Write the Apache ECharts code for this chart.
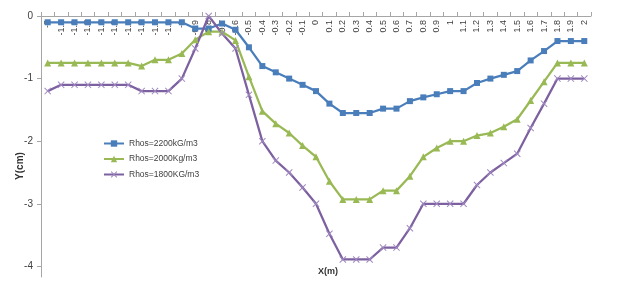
<!DOCTYPE html>
<html>
<head>
<meta charset="utf-8">
<script src="https://cdn.jsdelivr.net/npm/echarts@6/dist/echarts.min.js"></script>
<style>
html,body{margin:0;padding:0;background:#fff;}
#chart{width:619px;height:295px;}
</style>
</head>
<body>
<div id="chart"></div>
<script>
var categories = ['-2','-1.9','-1.8','-1.7','-1.6','-1.5','-1.4','-1.3','-1.2','-1.1','-1','-0.9','-0.8','-0.7','-0.6','-0.5','-0.4','-0.3','-0.2','-0.1','0','0.1','0.2','0.3','0.4','0.5','0.6','0.7','0.8','0.9','1','1.1','1.2','1.3','1.4','1.5','1.6','1.7','1.8','1.9','2'];

var rhos2200 = [-0.1,-0.1,-0.1,-0.1,-0.1,-0.1,-0.1,-0.1,-0.1,-0.1,-0.1,-0.2,-0.2,-0.12,-0.22,-0.5,-0.8,-0.9,-1.0,-1.1,-1.2,-1.4,-1.55,-1.55,-1.55,-1.48,-1.48,-1.36,-1.3,-1.25,-1.2,-1.2,-1.07,-1.0,-0.94,-0.88,-0.71,-0.56,-0.4,-0.4,-0.4];

var rhos2000 = [-0.75,-0.75,-0.75,-0.75,-0.75,-0.75,-0.75,-0.8,-0.7,-0.7,-0.6,-0.38,-0.25,-0.25,-0.39,-0.97,-1.52,-1.72,-1.87,-2.07,-2.25,-2.64,-2.93,-2.93,-2.93,-2.79,-2.79,-2.56,-2.25,-2.11,-2.0,-2.0,-1.91,-1.87,-1.77,-1.65,-1.35,-1.05,-0.75,-0.75,-0.75];

var rhos1800 = [-1.2,-1.1,-1.1,-1.1,-1.1,-1.1,-1.1,-1.2,-1.2,-1.2,-1.0,-0.52,0,-0.28,-0.52,-1.26,-2.0,-2.31,-2.5,-2.74,-3.0,-3.48,-3.89,-3.89,-3.89,-3.7,-3.7,-3.39,-3.0,-3.0,-3.0,-3.0,-2.7,-2.5,-2.35,-2.2,-1.79,-1.4,-1.0,-1.0,-1.0];

var yTicks = [0,-1,-2,-3,-4];
var seriesNames = ['Rhos=2200kG/m3','Rhos=2000Kg/m3','Rhos=1800KG/m3'];

var xSymbol = 'path://M0,1L1,0L5,4L9,0L10,1L6,5L10,9L9,10L5,6L1,10L0,9L4,5Z';
var font = 'Liberation Sans, Arial, sans-serif';

var chart = echarts.init(document.getElementById('chart'), null, {renderer:'canvas'});
chart.setOption({
  animation:false,
  backgroundColor:'#ffffff',
  textStyle:{fontFamily:font},
  grid:{left:41,right:28,top:16,bottom:18,containLabel:false},
  legend:{
    orient:'vertical', left:103, top:139, padding:0, itemWidth:20, itemHeight:8, itemGap:6.5,
    textStyle:{fontSize:8.5,color:'#404040',fontFamily:font},
    data:seriesNames
  },
  xAxis:{
    type:'category', position:'top', data:categories, boundaryGap:true,
    axisLine:{onZero:false,lineStyle:{color:'#a6a6a6',width:1}},
    axisTick:{show:true,inside:false,length:4,lineStyle:{color:'#a6a6a6'}},
    axisLabel:{inside:true,rotate:-90,interval:0,fontSize:9,color:'#404040',margin:4,fontFamily:font,
      overflow:'none',width:60,hideOverlap:false},
    splitLine:{show:false}
  },
  yAxis:{
    type:'value', min:-4.17, max:0,
    axisLine:{show:true,lineStyle:{color:'#a6a6a6',width:1}},
    axisTick:{show:true,length:4,customValues:yTicks,lineStyle:{color:'#a6a6a6'}},
    axisLabel:{customValues:yTicks,fontSize:10,color:'#404040',margin:8,fontFamily:font},
    splitLine:{show:false}
  },
  graphic:[
    {type:'text',x:20,y:166,rotation:Math.PI/2,style:{text:'Y(cm)',font:'bold 10px '+font,fill:'#333',align:'center',verticalAlign:'middle'}},
    {type:'text',x:328,y:272,style:{text:'X(m)',font:'bold 9px '+font,fill:'#333',align:'center',verticalAlign:'middle'}}
  ],
  series:[
    {name:seriesNames[0],type:'line',data:rhos2200,symbol:'rect',symbolSize:6,
     lineStyle:{width:2.25,color:'#4a7ebb'},itemStyle:{color:'#4a7ebb'}},
    {name:seriesNames[1],type:'line',data:rhos2000,symbol:'triangle',symbolSize:7,
     lineStyle:{width:2.25,color:'#98b954'},itemStyle:{color:'#98b954'}},
    {name:seriesNames[2],type:'line',data:rhos1800,symbol:xSymbol,symbolSize:7,
     lineStyle:{width:2.25,color:'#7d60a0'},itemStyle:{color:'#9f88c0'}}
  ]
});
</script>
</body>
</html>
